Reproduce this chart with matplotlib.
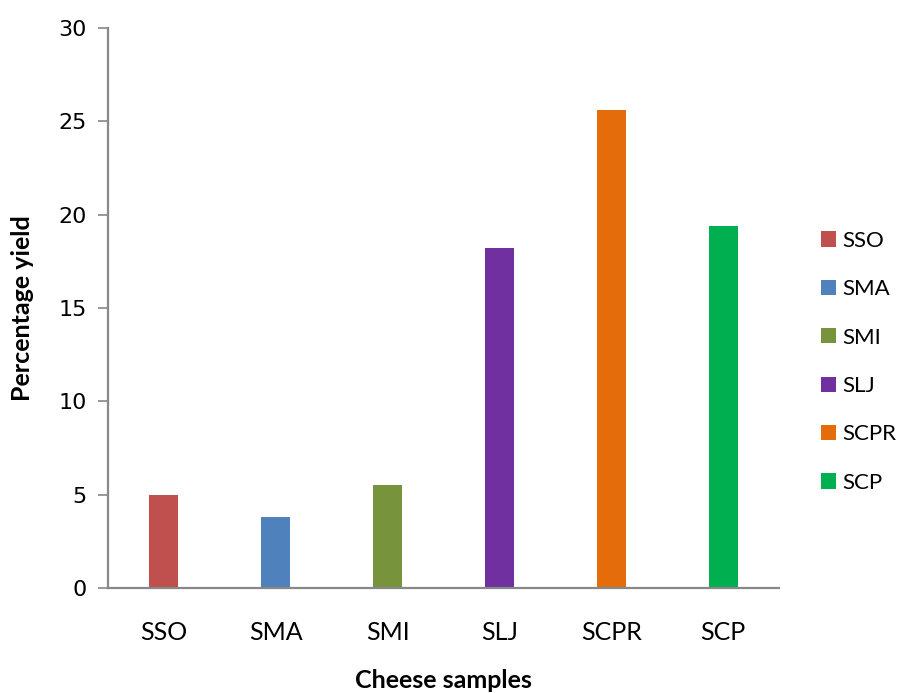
import matplotlib.pyplot as plt
from matplotlib.patches import Patch

# --- Data ---
samples = ["SSO", "SMA", "SMI", "SLJ", "SCPR", "SCP"]
yield_pct = [5.0, 3.8, 5.5, 18.2, 25.6, 19.4]
colors = ["#C0504D", "#4F81BD", "#77933C", "#7030A0", "#E46C0A", "#00B050"]

# --- Figure ---
fig = plt.figure(figsize=(8.99, 6.93), dpi=100)
ax = fig.add_axes([0.120, 0.1515, 0.7465, 0.808])

x = list(range(len(samples)))
ax.bar(x, yield_pct, width=0.26, color=colors)

ax.set_xlim(-0.5, len(samples) - 0.5)
ax.set_ylim(0, 30)
ax.set_yticks([0, 5, 10, 15, 20, 25, 30])

ax.set_xticks(x)
ax.set_xticklabels(samples, family="Lato", fontsize=18)
for lab in ax.get_yticklabels():
    lab.set_family("DejaVu Sans")
    lab.set_fontsize(16)

ax.tick_params(axis="x", length=0, pad=24)
ax.tick_params(axis="y", length=7, width=1.2, color="#888888", pad=8)

for side in ["top", "right"]:
    ax.spines[side].set_visible(False)
for side in ["left", "bottom"]:
    ax.spines[side].set_color("#888888")
    ax.spines[side].set_linewidth(1.6)

ax.set_xlabel("Cheese samples", family="Lato", fontsize=18, fontweight="bold", labelpad=18)
ax.set_ylabel("Percentage yield", family="Lato", fontsize=18, fontweight="bold", labelpad=18)

# --- Legend ---
handles = [Patch(facecolor=c, label=s) for s, c in zip(samples, colors)]
ax.legend(handles=handles, loc="center left", bbox_to_anchor=(1.062, 0.404),
          frameon=False, prop={"family": "Lato", "size": 16},
          handlelength=0.68, handleheight=0.68, handletextpad=0.3,
          labelspacing=1.28, borderaxespad=0, borderpad=0)

fig.savefig("out.png", dpi=100)
